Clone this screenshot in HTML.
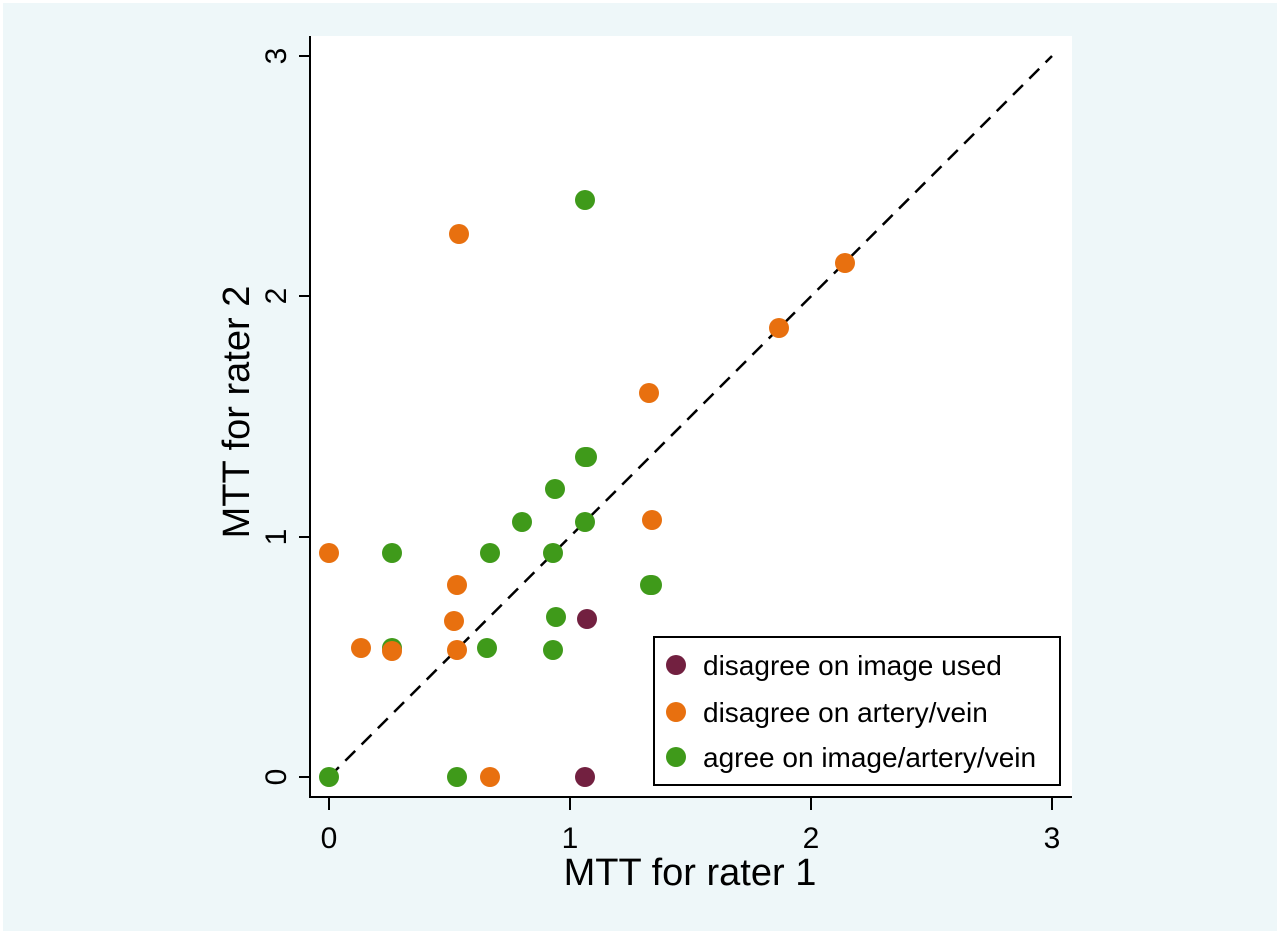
<!DOCTYPE html>
<html><head><meta charset="utf-8"><style>
html,body{margin:0;padding:0;background:#fff}
svg{display:block}
</style></head><body>
<svg width="1280" height="934" xmlns="http://www.w3.org/2000/svg" font-family="Liberation Sans, sans-serif">
<rect x="0" y="0" width="1280" height="934" fill="#ffffff"/>
<rect x="3" y="3" width="1274" height="928" fill="#eef7f9"/>
<rect x="310" y="36" width="762" height="761" fill="#ffffff"/>
<line x1="329" y1="777" x2="1052" y2="56" stroke="#000" stroke-width="2.5" stroke-dasharray="14,9"/>
<g fill="#3f9a1a">
<circle cx="329" cy="777" r="10"/><circle cx="457" cy="777" r="10"/><circle cx="392" cy="553" r="10"/>
<circle cx="392" cy="648" r="10"/><circle cx="487" cy="648" r="10"/><circle cx="490" cy="553" r="10"/>
<circle cx="522" cy="522" r="10"/><circle cx="553" cy="553" r="10"/><circle cx="555" cy="489" r="10"/>
<circle cx="556" cy="617" r="10"/><circle cx="553" cy="650" r="10"/><circle cx="585" cy="457" r="10"/>
<circle cx="587" cy="457" r="10"/><circle cx="585" cy="522" r="10"/><circle cx="585" cy="200" r="10"/>
<circle cx="650" cy="585" r="10"/><circle cx="652" cy="585" r="10"/>
</g>
<g fill="#e8700f">
<circle cx="329" cy="553" r="10"/><circle cx="361" cy="648" r="10"/><circle cx="392" cy="651" r="10"/>
<circle cx="457" cy="585" r="10"/><circle cx="454" cy="621" r="10"/><circle cx="457" cy="650" r="10"/>
<circle cx="459" cy="234" r="10"/><circle cx="490" cy="777" r="10"/><circle cx="649" cy="393" r="10"/>
<circle cx="652" cy="520" r="10"/><circle cx="779" cy="328" r="10"/><circle cx="845" cy="263" r="10"/>
</g>
<g fill="#722040">
<circle cx="587" cy="619" r="10"/><circle cx="585" cy="777" r="10"/>
</g>
<g stroke="#000" stroke-width="2">
<line x1="310" y1="36" x2="310" y2="798"/>
<line x1="309" y1="797" x2="1072" y2="797"/>
<line x1="299" y1="56" x2="310" y2="56"/><line x1="299" y1="296" x2="310" y2="296"/>
<line x1="299" y1="537" x2="310" y2="537"/><line x1="299" y1="777" x2="310" y2="777"/>
<line x1="329" y1="797" x2="329" y2="810"/><line x1="570" y1="797" x2="570" y2="810"/>
<line x1="811" y1="797" x2="811" y2="810"/><line x1="1052" y1="797" x2="1052" y2="810"/>
</g>
<g font-size="30" text-anchor="middle" fill="#000">
<text x="329" y="848">0</text><text x="570" y="848">1</text><text x="811" y="848">2</text><text x="1052" y="848">3</text>
<text transform="translate(286,56) rotate(-90)">3</text>
<text transform="translate(286,296) rotate(-90)">2</text>
<text transform="translate(286,537) rotate(-90)">1</text>
<text transform="translate(286,777) rotate(-90)">0</text>
</g>
<text x="690" y="885" font-size="38" text-anchor="middle">MTT for rater 1</text>
<text transform="translate(249,412) rotate(-90)" font-size="38" text-anchor="middle">MTT for rater 2</text>
<rect x="654" y="637" width="406" height="148" fill="#fff" stroke="#000" stroke-width="2"/>
<circle cx="676" cy="665" r="10" fill="#722040"/>
<circle cx="676" cy="712" r="10" fill="#e8700f"/>
<circle cx="676" cy="757" r="10" fill="#3f9a1a"/>
<g font-size="28" fill="#000">
<text x="703" y="675">disagree on image used</text>
<text x="703" y="722">disagree on artery/vein</text>
<text x="703" y="767">agree on image/artery/vein</text>
</g>
</svg>
</body></html>
